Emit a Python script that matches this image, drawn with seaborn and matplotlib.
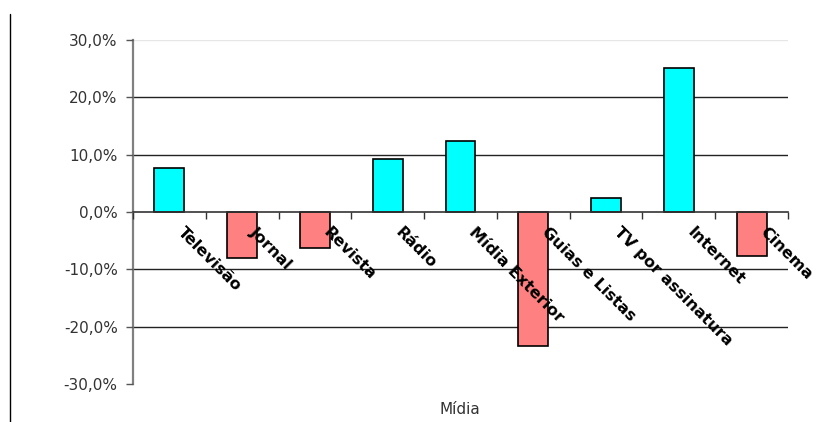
import matplotlib
matplotlib.use("Agg")
import matplotlib.pyplot as plt
import matplotlib.transforms as mtransforms
from matplotlib.lines import Line2D
from matplotlib.ticker import FixedLocator, FuncFormatter
import numpy as np
import pandas as pd
import seaborn as sns

categorias = ["Televisão", "Jornal", "Revista", "Rádio", "Mídia Exterior",
              "Guias e Listas", "TV por assinatura", "Internet", "Cinema"]
variacao = [7.7, -8.1, -6.2, 9.3, 12.3, -23.3, 2.5, 25.2, -7.6]
y_ticks = [-30, -20, -10, 0, 10, 20, 30]

POS, NEG = "#00FFFF", "#FF8080"

sns.set_theme(style="white")
plt.rcParams["font.family"] = ["DejaVu Sans"]

df = pd.DataFrame({"midia": categorias, "var": variacao})
cores = [POS if v >= 0 else NEG for v in variacao]

fig = plt.figure(figsize=(8.24, 4.22), dpi=100)
ax = fig.add_axes([133 / 824, 1 - 384 / 422, (788 - 133) / 824, (384 - 40) / 422])

sns.barplot(data=df, x="midia", y="var", hue="midia", palette=cores, legend=False,
            width=0.41, edgecolor="black", linewidth=1.2, saturation=1, ax=ax, zorder=2)

ax.set_ylim(-30, 30)
ax.set_xlim(-0.5, len(categorias) - 0.5)
ax.yaxis.set_major_locator(FixedLocator(y_ticks))
ax.yaxis.set_major_formatter(FuncFormatter(lambda v, _: f"{v:.1f}%".replace(".", ",")))
ax.tick_params(axis="y", labelsize=11, labelcolor="#333333", length=5, width=1,
               direction="out", left=True, pad=6, color="#555555")

# gridlines (none at the bottom, light one at the top)
ax.set_axisbelow(False)
for yv in y_ticks:
    if yv in (-30, 0):
        continue
    ax.axhline(yv, color="#e6e6e6" if yv == 30 else "#222222", lw=1, zorder=0.5)

for s in ["top", "right"]:
    ax.spines[s].set_visible(False)
ax.spines["left"].set_color("#808080")
ax.spines["left"].set_linewidth(1.6)
ax.spines["bottom"].set_position(("data", 0))
ax.spines["bottom"].set_color("#333333")
ax.spines["bottom"].set_linewidth(1.2)

# tick marks at category boundaries
ax.xaxis.set_minor_locator(FixedLocator(np.arange(-0.5, len(categorias), 1.0)))
ax.tick_params(axis="x", which="minor", bottom=True, length=5, width=1, color="#333333")
ax.tick_params(axis="x", which="major", bottom=True, length=0, pad=6, labelsize=11.5)
offset = mtransforms.ScaledTranslation(7.5 / 72, -6.5 / 72, fig.dpi_scale_trans)
for lab in ax.get_xticklabels():
    lab.set_rotation(-45)
    lab.set_rotation_mode("anchor")
    lab.set_ha("left")
    lab.set_va("center")
    lab.set_fontweight("bold")
    lab.set_color("black")
    lab.set_transform(lab.get_transform() + offset)

ax.set_xlabel("")
ax.set_ylabel("")
fig.text(460 / 824, 1 - 410 / 422, "Mídia", ha="center", va="center", fontsize=11, color="#333333")

# left border line of the figure
fig.add_artist(Line2D([10 / 824, 10 / 824], [0, 1 - 14 / 422], color="black", lw=1,
                      transform=fig.transFigure))

fig.savefig("out.png", dpi=100)
